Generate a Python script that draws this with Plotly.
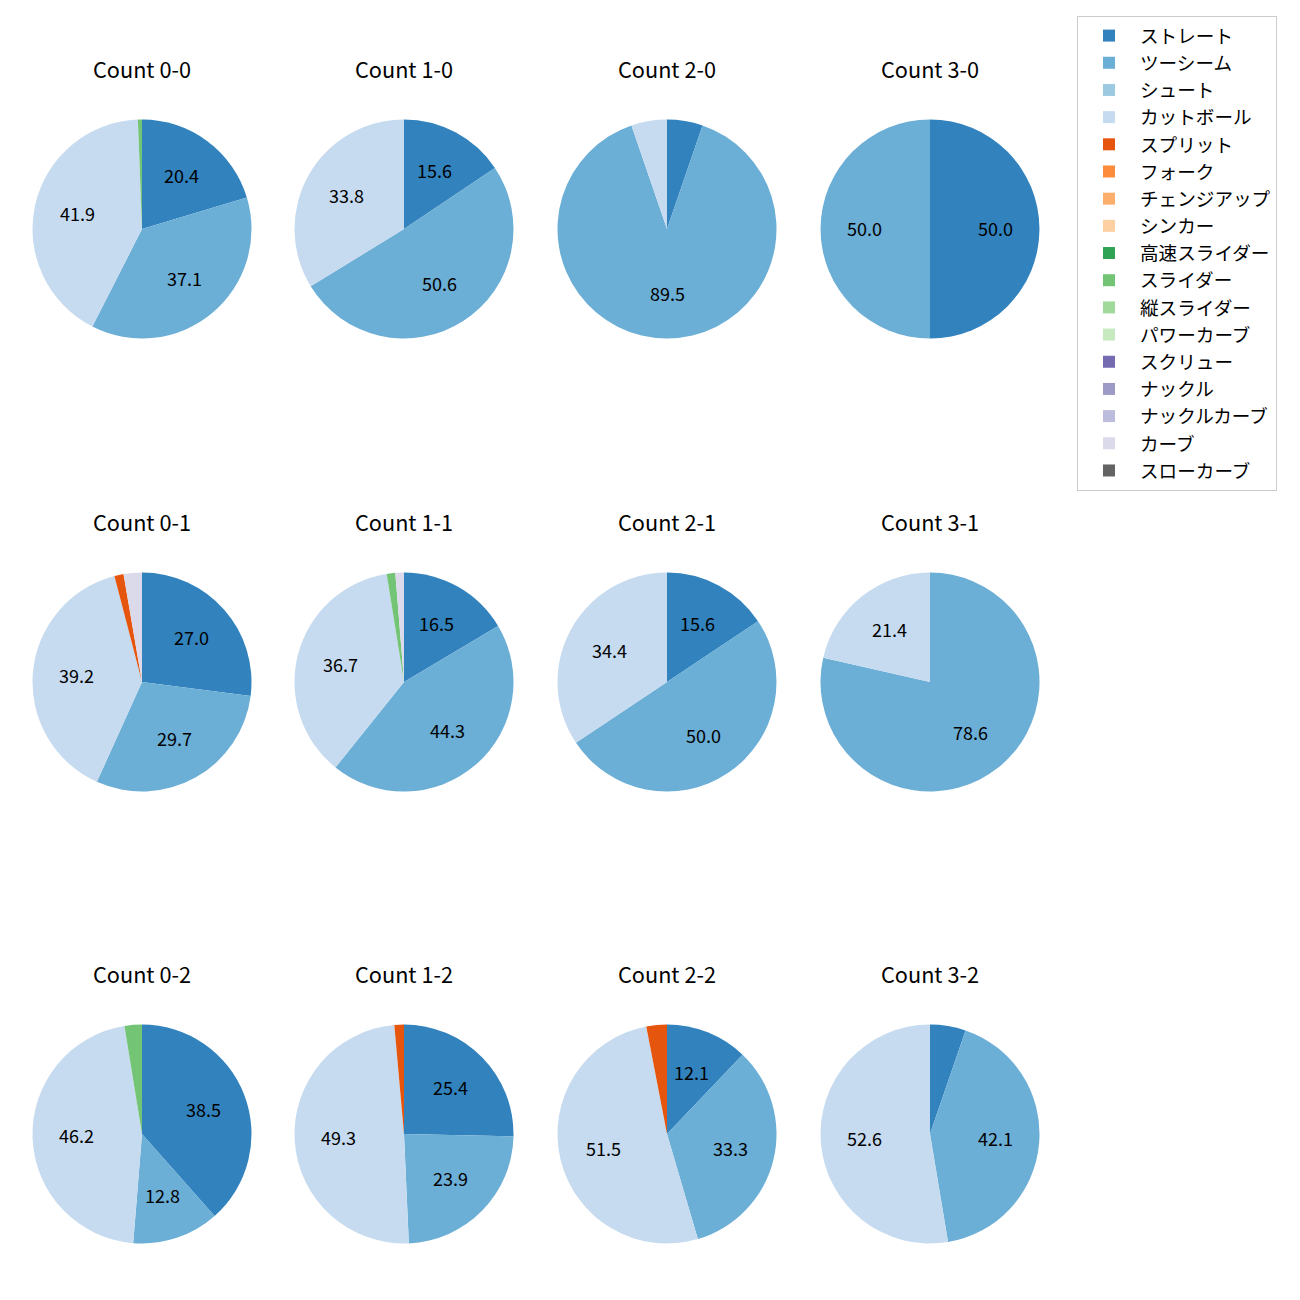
import math
import plotly.graph_objects as go

pitch_types = ["ストレート", "ツーシーム", "シュート", "カットボール", "スプリット", "フォーク",
               "チェンジアップ", "シンカー", "高速スライダー", "スライダー", "縦スライダー",
               "パワーカーブ", "スクリュー", "ナックル", "ナックルカーブ", "カーブ", "スローカーブ"]
colors = ["#3182bd", "#6baed6", "#9ecae1", "#c6dbef", "#e6550d", "#fd8d3c", "#fdae6b",
          "#fdd0a2", "#31a354", "#74c476", "#a1d99b", "#c7e9c0", "#756bb1", "#9e9ac8",
          "#bcbddc", "#dadaeb", "#636363"]

counts = ["0-0", "1-0", "2-0", "3-0",
          "0-1", "1-1", "2-1", "3-1",
          "0-2", "1-2", "2-2", "3-2"]

# pitch counts per situation
c_00 = {"ストレート": 34, "ツーシーム": 62, "カットボール": 70, "スライダー": 1}
c_10 = {"ストレート": 12, "ツーシーム": 39, "カットボール": 26}
c_20 = {"ストレート": 1, "ツーシーム": 17, "カットボール": 1}
c_30 = {"ストレート": 1, "ツーシーム": 1}
c_01 = {"ストレート": 20, "ツーシーム": 22, "カットボール": 29, "スプリット": 1, "カーブ": 2}
c_11 = {"ストレート": 13, "ツーシーム": 35, "カットボール": 29, "スライダー": 1, "カーブ": 1}
c_21 = {"ストレート": 5, "ツーシーム": 16, "カットボール": 11}
c_31 = {"ツーシーム": 11, "カットボール": 3}
c_02 = {"ストレート": 15, "ツーシーム": 5, "カットボール": 18, "スライダー": 1}
c_12 = {"ストレート": 18, "ツーシーム": 17, "カットボール": 35, "スプリット": 1}
c_22 = {"ストレート": 4, "ツーシーム": 11, "カットボール": 17, "スプリット": 1}
c_32 = {"ストレート": 1, "ツーシーム": 8, "カットボール": 10}

data = [c_00, c_10, c_20, c_30, c_01, c_11, c_21, c_31, c_02, c_12, c_22, c_32]

W = H = 1300
col_x = [142, 404, 667, 930]
row_y = [229, 682, 1134]
R = 109.5
FONT = "Noto Sans CJK JP"

fig = go.Figure()
annotations = []
for i, (cnt, d) in enumerate(zip(counts, data)):
    r, c = divmod(i, 4)
    cx, cy = col_x[c], row_y[r]
    vals = [d.get(p, 0) for p in pitch_types]
    fig.add_trace(go.Pie(
        labels=pitch_types, values=vals, sort=False, direction="clockwise", rotation=0,
        marker=dict(colors=colors, line=dict(width=0)), textinfo="none", hoverinfo="label+percent",
        domain=dict(x=[(cx - R) / W, (cx + R) / W], y=[1 - (cy + R) / H, 1 - (cy - R) / H]),
        showlegend=(i == 0),
    ))
    total = sum(vals)
    cum = 0
    for v in vals:
        if v == 0:
            continue
        pct = 100 * v / total
        mid = (cum + v / 2) / total
        cum += v
        if pct < 10:
            continue
        th = math.radians(90 - 360 * mid)
        px = cx + 0.6 * R * math.cos(th)
        py = cy - 0.6 * R * math.sin(th)
        annotations.append(dict(x=px / W, y=1 - (py - 1.5) / H, xref="paper", yref="paper",
                                xanchor="center", yanchor="middle",
                                text=f"{pct:.1f}", showarrow=False,
                                font=dict(size=18, color="black", family=FONT)))
    annotations.append(dict(x=cx / W, y=1 - (cy - 160.5) / H, xref="paper", yref="paper",
                            xanchor="center", yanchor="middle",
                            text=f"Count {cnt}", showarrow=False,
                            font=dict(size=21.7, color="black", family=FONT)))

fig.update_layout(
    width=W, height=H, margin=dict(l=0, r=0, t=0, b=0),
    paper_bgcolor="white", plot_bgcolor="white",
    font=dict(family=FONT, color="black"),
    annotations=annotations,
    legend=dict(x=1077 / W, y=1 - 16 / H, xanchor="left", yanchor="top",
                bordercolor="#cccccc", borderwidth=1, bgcolor="white",
                font=dict(size=18.6, family=FONT), itemwidth=52, traceorder="normal"),
)
fig.write_html("out.html", config={"displayModeBar": False},
               post_script="document.body.style.margin='0';")
